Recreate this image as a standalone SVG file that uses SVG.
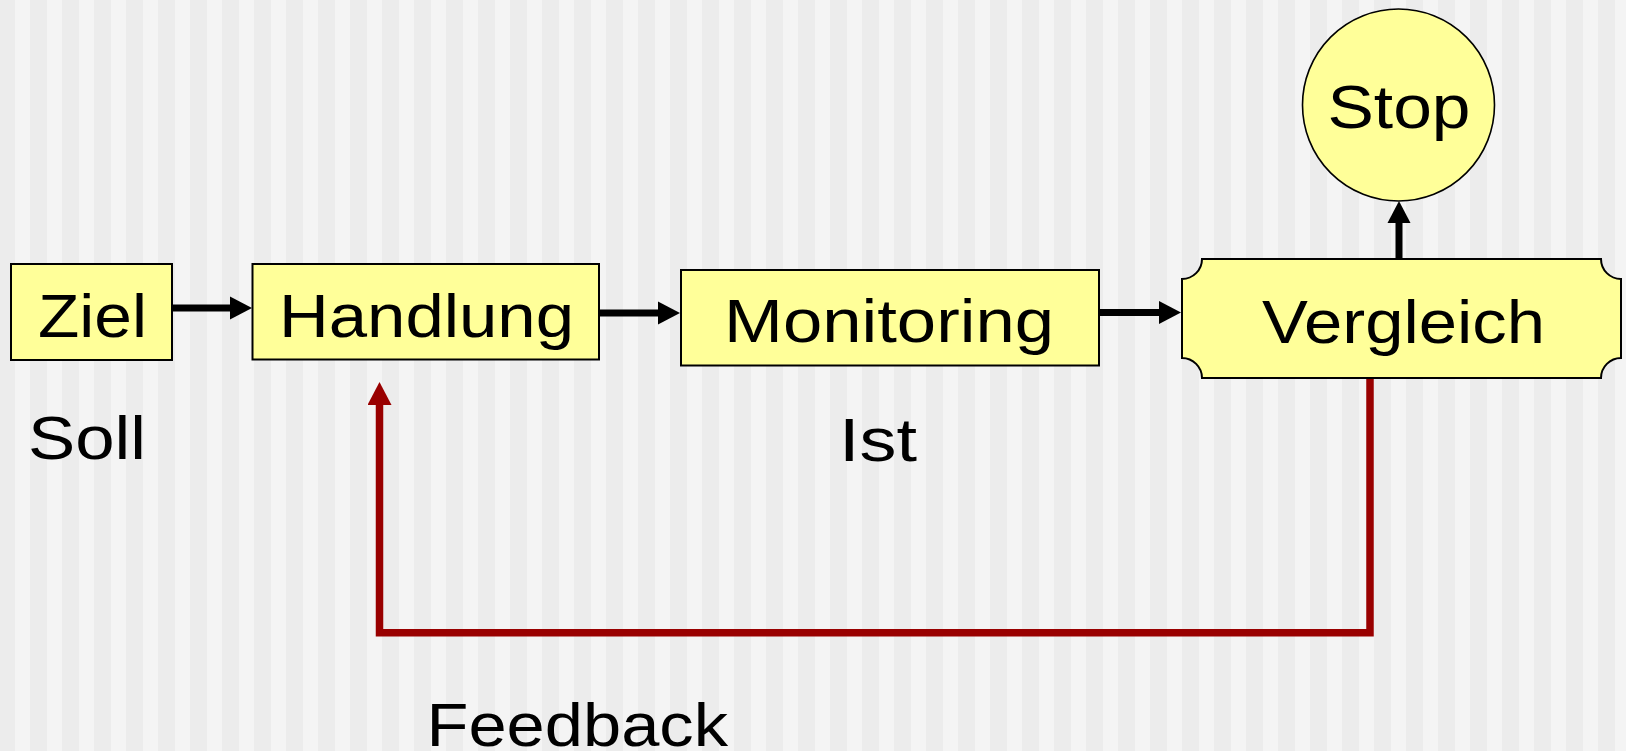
<svg xmlns="http://www.w3.org/2000/svg" width="1626" height="751" viewBox="0 0 1626 751">
  <defs>
    <pattern id="stripes" x="0" y="0" width="32" height="32" patternUnits="userSpaceOnUse">
      <rect x="0" y="0" width="32" height="32" fill="#ececec"/>
      <rect x="15" y="0" width="15" height="32" fill="#f4f4f4"/>
    </pattern>
    <marker id="arrowBlack" viewBox="0 -12 22 24" markerWidth="22" markerHeight="24" refX="1" refY="0" orient="auto" markerUnits="userSpaceOnUse">
      <path d="M0,-11.5 L22,0 L0,11.5 Z" fill="#000"/>
    </marker>
    <marker id="arrowRed" viewBox="0 -12 23 24" markerWidth="23" markerHeight="24" refX="1" refY="0" orient="auto" markerUnits="userSpaceOnUse">
      <path d="M0,-12 L23,0 L0,12 Z" fill="#990000"/>
    </marker>
  </defs>
  <style>
    .box { fill: #ffff99; stroke: #000; stroke-width: 2; }
    .label { font-family: "Liberation Sans", Arial, sans-serif; font-size: 61px; fill: #000; }
    .flow { stroke: #000; stroke-width: 7; fill: none; marker-end: url(#arrowBlack); }
    .feedback { stroke: #990000; stroke-width: 7.5; fill: none; stroke-linejoin: miter; marker-end: url(#arrowRed); }
  </style>

  <!-- striped backdrop -->
  <rect x="0" y="0" width="1626" height="751" fill="url(#stripes)"/>

  <!-- connectors -->
  <g id="connectors">
    <line class="flow" x1="172" y1="308" x2="231" y2="308"/>
    <line class="flow" x1="599" y1="313" x2="659" y2="313"/>
    <line class="flow" x1="1099" y1="312.5" x2="1160" y2="312.5"/>
    <line class="flow" x1="1399" y1="259" x2="1399" y2="222"/>
    <path class="feedback" d="M1370,378 V632.7 H379.5 V404"/>
  </g>

  <!-- process steps -->
  <g id="node-ziel">
    <rect class="box" x="11" y="264" width="161" height="96"/>
    <text class="label" x="38" y="337" textLength="109" lengthAdjust="spacingAndGlyphs">Ziel</text>
  </g>
  <g id="node-handlung">
    <rect class="box" x="252.5" y="264" width="346.5" height="95.5"/>
    <text class="label" x="279" y="337" textLength="295" lengthAdjust="spacingAndGlyphs">Handlung</text>
  </g>
  <g id="node-monitoring">
    <rect class="box" x="681" y="270" width="418" height="95.5"/>
    <text class="label" x="724" y="342" textLength="330" lengthAdjust="spacingAndGlyphs">Monitoring</text>
  </g>
  <g id="node-vergleich">
    <path class="box" d="M1202,259 H1601 A20,20 0 0 0 1621,279 V358 A20,20 0 0 0 1601,378 H1202 A20,20 0 0 0 1182,358 V279 A20,20 0 0 0 1202,259 Z"/>
    <text class="label" x="1262" y="343" textLength="283" lengthAdjust="spacingAndGlyphs">Vergleich</text>
  </g>
  <g id="node-stop">
    <circle cx="1398.5" cy="105" r="96" fill="#ffff99" stroke="#000" stroke-width="1.6"/>
    <text class="label" x="1327.5" y="128" textLength="143" lengthAdjust="spacingAndGlyphs">Stop</text>
  </g>

  <!-- free labels -->
  <g id="label-soll">
    <text class="label" x="28" y="459" textLength="118" lengthAdjust="spacingAndGlyphs">Soll</text>
  </g>
  <g id="label-ist">
    <text class="label" x="839" y="461" textLength="78" lengthAdjust="spacingAndGlyphs">Ist</text>
  </g>
  <g id="label-feedback">
    <text class="label" x="426.5" y="746" textLength="301.5" lengthAdjust="spacingAndGlyphs">Feedback</text>
  </g>
</svg>
